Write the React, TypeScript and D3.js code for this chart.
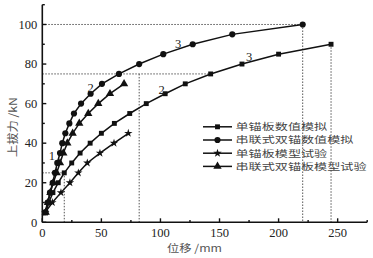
import React from "react";
import * as d3 from "d3";

const W = 373;
const H = 258;

// Load levels (kN) shared by the series
const loadSquare = [5, 10, 15, 20, 25, 30, 35, 40, 45, 50, 55, 60, 65, 70, 75, 80, 85, 90];
const dispSquare = [3, 5.5, 9, 13.5, 18.6, 24.9, 32, 40.5, 50, 61, 74, 88, 104, 121, 142.5, 169, 200, 244.4];

const loadCircle = [5, 10, 15, 20, 25, 30, 35, 40, 45, 50, 55, 60, 65, 70, 75, 80, 85, 90, 95, 100];
const dispCircle = [2.3, 4.5, 6.5, 8.8, 10.7, 12.7, 15, 16.9, 19.5, 22.9, 26.8, 32.8, 40.9, 50.5, 64.9, 82, 102.4, 127.3, 160.8, 220.4];

const loadStar = [5, 10, 15, 20, 25, 30, 35, 40, 45];
const dispStar = [2.5, 8.5, 15.8, 23.4, 30.5, 38.1, 48.8, 60.7, 72.8];

const loadTri = [5, 10, 15, 20, 25, 30, 35, 40, 45, 50, 55, 60, 65, 70];
const dispTri = [2.9, 4.8, 6.8, 9.3, 12.2, 15, 17.8, 21.2, 25.7, 31.3, 38.9, 47.4, 57.3, 69.2];

const legendLabels = ["单锚板数值模拟", "串联式双锚数值模拟", "单锚板模型试验", "串联式双锚板模型试验"];

const xMajorTicks = [0, 50, 100, 150, 200, 250];
const xMinorTicks = [25, 75, 125, 175, 225, 275];
const yMajorTicks = [0, 20, 40, 60, 80, 100];
const yMinorTicks = [10, 30, 50, 70, 90, 110];

// curve labels (data coords)
const curveLabelText = ["1", "2", "2", "3", "3"];
const curveLabelX = [8, 41, 101, 115, 175];
const curveLabelY = [34, 68.3, 67.3, 90.5, 84];

// dotted guide segments: [x1,y1,x2,y2] in data units
const guideX1 = [0, 18.6, 0, 82, 0, 220.4, 244.4];
const guideY1 = [25, 25, 75, 75, 100, 100, 90];
const guideX2 = [18.6, 18.6, 142.5, 82, 220.4, 220.4, 244.4];
const guideY2 = [25, 0, 75, 0, 100, 0, 0];

const x = d3.scaleLinear().domain([0, 275]).range([42.3, 367.2]);
const y = d3.scaleLinear().domain([0, 110]).range([222.3, 4.7]);

const line = d3
  .line<[number, number]>()
  .x((d) => x(d[0]))
  .y((d) => y(d[1]));

const sym = {
  square: d3.symbol().type(d3.symbolSquare).size(24)(),
  circle: d3.symbol().type(d3.symbolCircle).size(30)(),
  star: d3.symbol().type(d3.symbolStar).size(22)(),
  tri: d3.symbol().type(d3.symbolTriangle).size(30)(),
};

const series = [
  { xs: dispSquare, ys: loadSquare, mark: sym.square },
  { xs: dispCircle, ys: loadCircle, mark: sym.circle },
  { xs: dispStar, ys: loadStar, mark: sym.star },
  { xs: dispTri, ys: loadTri, mark: sym.tri },
];

const serif = "'Liberation Serif', 'DejaVu Serif', serif";
const cjk = "'Noto Sans CJK SC', sans-serif";

export default function App() {
  return (
    <svg
      width={W}
      height={H}
      style={{ position: "absolute", left: 0, top: 0, background: "#fff" }}
    >
      <rect width={W} height={H} fill="#fff" />
      {/* guides */}
      {guideX1.map((_, i) => (
        <line
          key={"g" + i}
          x1={x(guideX1[i])}
          y1={y(guideY1[i])}
          x2={x(guideX2[i])}
          y2={y(guideY2[i])}
          stroke="#555"
          strokeWidth={1}
          strokeDasharray="1.5,1.5"
        />
      ))}
      {/* series */}
      {series.map((s, si) => {
        const pts: [number, number][] = s.xs.map((v, i) => [v, s.ys[i]]);
        return (
          <g key={"s" + si}>
            <path d={line(pts) || ""} fill="none" stroke="#111" strokeWidth={1.5} />
            {pts.map((p, i) => (
              <path
                key={i}
                d={s.mark || ""}
                transform={`translate(${x(p[0])},${y(p[1])})`}
                fill="#111"
              />
            ))}
          </g>
        );
      })}
      {/* axes */}
      <line x1={x(0)} y1={y(0)} x2={x(275)} y2={y(0)} stroke="#111" strokeWidth={1.6} />
      <line x1={x(0)} y1={y(0)} x2={x(0)} y2={y(110)} stroke="#111" strokeWidth={1.6} />
      {xMajorTicks.map((t) => (
        <g key={"xt" + t}>
          <line x1={x(t)} x2={x(t)} y1={y(0)} y2={y(0) - 4} stroke="#111" strokeWidth={1.4} />
          <text
            x={x(t)}
            y={y(0) + 15}
            textAnchor="middle"
            fontFamily={serif}
            fontSize={12.5}
            fill="#222"
          >
            {t}
          </text>
        </g>
      ))}
      {xMinorTicks.map((t) => (
        <line key={"xm" + t} x1={x(t)} x2={x(t)} y1={y(0)} y2={y(0) - 2.2} stroke="#111" strokeWidth={1.4} />
      ))}
      {yMajorTicks.map((t) => (
        <g key={"yt" + t}>
          <line x1={x(0)} x2={x(0) + 4} y1={y(t)} y2={y(t)} stroke="#111" strokeWidth={1.4} />
          <text
            x={x(0) - 5}
            y={y(t) + 4.3}
            textAnchor="end"
            fontFamily={serif}
            fontSize={12.5}
            fill="#222"
          >
            {t}
          </text>
        </g>
      ))}
      {yMinorTicks.map((t) => (
        <line key={"ym" + t} x1={x(0)} x2={x(0) + 2.5} y1={y(t)} y2={y(t)} stroke="#111" strokeWidth={1.4} />
      ))}
      {/* axis titles */}
      <text
        x={194.5}
        y={251.5}
        textAnchor="middle"
        fontFamily={cjk}
        fontSize={10.5}
        fill="#555"
        textLength={55}
        lengthAdjust="spacingAndGlyphs"
      >
        位移 /mm
      </text>
      <text
        transform="translate(17,127) rotate(-90)"
        textAnchor="middle"
        fontFamily={cjk}
        fontSize={11}
        fill="#555"
        textLength={60}
        lengthAdjust="spacingAndGlyphs"
      >
        上拔力 /kN
      </text>
      {/* curve labels */}
      {curveLabelText.map((t, i) => (
        <text
          key={"cl" + i}
          x={x(curveLabelX[i])}
          y={y(curveLabelY[i]) + 4.5}
          textAnchor="middle"
          fontFamily={serif}
          fontSize={12.5}
          fill="#222"
        >
          {t}
        </text>
      ))}
      {/* legend */}
      {legendLabels.map((lab, i) => {
        const ly = 126.8 + i * 13.2;
        return (
          <g key={"lg" + i}>
            <line x1={203} x2={232} y1={ly} y2={ly} stroke="#111" strokeWidth={1.5} />
            <path d={series[i].mark || ""} transform={`translate(217.5,${ly})`} fill="#111" />
            <text
              x={235.5}
              y={ly + 3.4}
              fontFamily={cjk}
              fontSize={9}
              fill="#444"
              textLength={lab.length * 13.1}
              lengthAdjust="spacingAndGlyphs"
            >
              {lab}
            </text>
          </g>
        );
      })}
    </svg>
  );
}
